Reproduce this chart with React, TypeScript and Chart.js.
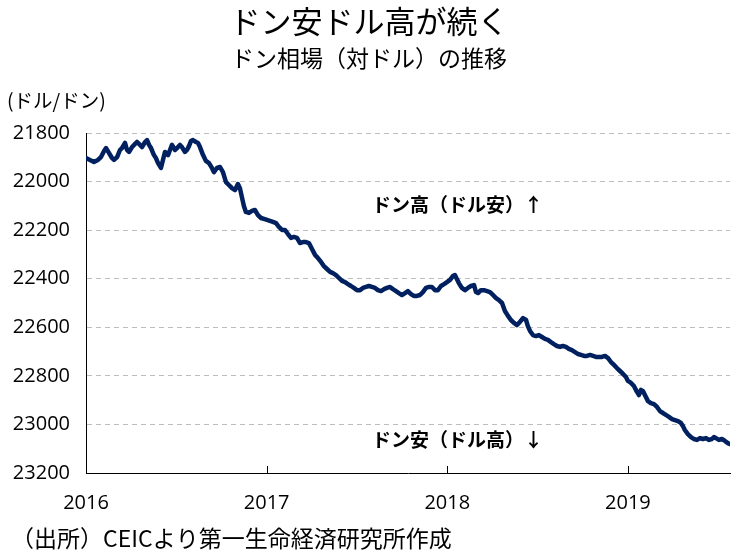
import React, { useEffect, useRef } from "react";
import { Chart, registerables } from "chart.js";

Chart.register(...registerables);

const titleText = "ドン安ドル高が続く";
const subtitleText = "ドン相場（対ドル）の推移";
const unitText = "(ドル/ドン)";
const sourceText = "（出所）CEICより第一生命経済研究所作成";
const upNote = "ドン高（ドル安）↑";
const downNote = "ドン安（ドル高）↓";

const yTicks = [21800, 22000, 22200, 22400, 22600, 22800, 23000, 23200];
const xTickYears = [2016, 2017, 2018, 2019];

// decimal year
const dates = [
  2016.0, 2016.022, 2016.044, 2016.066, 2016.083, 2016.1, 2016.111, 2016.127, 2016.144, 2016.155,
  2016.172, 2016.188, 2016.199, 2016.216, 2016.227, 2016.238, 2016.255, 2016.266, 2016.282, 2016.299,
  2016.31, 2016.327, 2016.338, 2016.349, 2016.36, 2016.376, 2016.387, 2016.399, 2016.415, 2016.426,
  2016.437, 2016.454, 2016.465, 2016.476, 2016.493, 2016.504, 2016.52, 2016.531, 2016.548, 2016.559,
  2016.57, 2016.581, 2016.592, 2016.609, 2016.62, 2016.631, 2016.648, 2016.664, 2016.681, 2016.697,
  2016.708, 2016.725, 2016.742, 2016.758, 2016.775, 2016.791, 2016.808, 2016.825, 2016.841, 2016.852,
  2016.863, 2016.874, 2016.885, 2016.902, 2016.919, 2016.935, 2016.952, 2016.969, 2016.985, 2017.002,
  2017.018, 2017.035, 2017.052, 2017.068, 2017.085, 2017.101, 2017.118, 2017.135, 2017.151, 2017.168,
  2017.184, 2017.201, 2017.218, 2017.234, 2017.251, 2017.268, 2017.284, 2017.301, 2017.317, 2017.334,
  2017.351, 2017.367, 2017.384, 2017.4, 2017.417, 2017.434, 2017.45, 2017.467, 2017.483, 2017.5,
  2017.517, 2017.533, 2017.55, 2017.566, 2017.583, 2017.6, 2017.616, 2017.633, 2017.65, 2017.666,
  2017.683, 2017.699, 2017.716, 2017.732, 2017.749, 2017.766, 2017.782, 2017.799, 2017.815, 2017.832,
  2017.849, 2017.865, 2017.882, 2017.899, 2017.915, 2017.932, 2017.948, 2017.965, 2017.982, 2017.998,
  2018.015, 2018.031, 2018.042, 2018.053, 2018.064, 2018.081, 2018.098, 2018.114, 2018.131, 2018.148,
  2018.159, 2018.17, 2018.186, 2018.203, 2018.22, 2018.236, 2018.253, 2018.27, 2018.286, 2018.303,
  2018.319, 2018.336, 2018.352, 2018.369, 2018.386, 2018.402, 2018.419, 2018.436, 2018.446, 2018.458,
  2018.474, 2018.491, 2018.507, 2018.524, 2018.541, 2018.557, 2018.574, 2018.59, 2018.607, 2018.624,
  2018.64, 2018.657, 2018.673, 2018.69, 2018.707, 2018.723, 2018.74, 2018.757, 2018.773, 2018.79,
  2018.807, 2018.823, 2018.84, 2018.856, 2018.873, 2018.89, 2018.906, 2018.923, 2018.939, 2018.956,
  2018.973, 2018.989, 2019.0, 2019.017, 2019.033, 2019.05, 2019.061, 2019.072, 2019.083, 2019.094,
  2019.111, 2019.127, 2019.144, 2019.161, 2019.177, 2019.194, 2019.21, 2019.227, 2019.244, 2019.26,
  2019.277, 2019.293, 2019.304, 2019.315, 2019.332, 2019.349, 2019.365, 2019.382, 2019.399, 2019.415,
  2019.432, 2019.448, 2019.465, 2019.476, 2019.487, 2019.504, 2019.52, 2019.537, 2019.553, 2019.564,
];

// dong per dollar
const rates = [
  21903, 21911, 21919, 21911, 21899, 21874, 21862, 21882, 21903, 21911,
  21899, 21870, 21862, 21841, 21870, 21878, 21858, 21849, 21837, 21849,
  21858, 21837, 21829, 21849, 21862, 21891, 21903, 21924, 21944, 21911,
  21878, 21891, 21870, 21849, 21870, 21862, 21849, 21858, 21878, 21870,
  21854, 21833, 21829, 21837, 21841, 21858, 21891, 21915, 21924, 21944,
  21961, 21944, 21940, 21961, 22002, 22014, 22027, 22035, 22010, 22027,
  22064, 22101, 22125, 22129, 22121, 22117, 22138, 22150, 22154, 22158,
  22162, 22166, 22171, 22187, 22199, 22199, 22216, 22232, 22228, 22232,
  22253, 22249, 22249, 22253, 22278, 22302, 22315, 22331, 22348, 22360,
  22372, 22377, 22385, 22397, 22409, 22414, 22422, 22430, 22438, 22447,
  22447, 22438, 22434, 22430, 22434, 22438, 22447, 22451, 22443, 22438,
  22434, 22443, 22451, 22459, 22467, 22459, 22451, 22463, 22471, 22471,
  22467, 22455, 22438, 22434, 22434, 22447, 22447, 22430, 22422, 22414,
  22405, 22389, 22385, 22401, 22418, 22438, 22447, 22438, 22430, 22426,
  22455, 22459, 22447, 22447, 22451, 22455, 22467, 22480, 22488, 22500,
  22533, 22553, 22570, 22582, 22591, 22578, 22562, 22570, 22595, 22615,
  22632, 22636, 22632, 22640, 22648, 22652, 22661, 22669, 22677, 22681,
  22677, 22681, 22689, 22694, 22702, 22710, 22714, 22718, 22718, 22714,
  22718, 22722, 22722, 22722, 22718, 22727, 22743, 22755, 22768, 22780,
  22792, 22805, 22821, 22829, 22842, 22866, 22879, 22858, 22862, 22879,
  22904, 22912, 22916, 22928, 22945, 22953, 22961, 22969, 22978, 22982,
  22986, 22994, 23006, 23023, 23040, 23052, 23060, 23064, 23056, 23060,
  23056, 23064, 23060, 23052, 23056, 23064, 23060, 23068, 23077, 23081,
];

const JP = '"Noto Sans CJK JP", "Noto Sans", sans-serif';
const NUM = '"Open Sans", "Noto Sans", sans-serif';

const textPlugin = {
  id: "textPlugin",
  afterDraw(chart: any) {
    const ctx = chart.ctx;
    const xs = chart.scales.x;
    const area = chart.chartArea;
    ctx.save();
    // x tick marks (inside)
    ctx.strokeStyle = "#000";
    ctx.lineWidth = 1;
    ctx.beginPath();
    for (const yr of xTickYears) {
      const px = Math.round(xs.getPixelForValue(yr)) + 0.5;
      ctx.moveTo(px, area.bottom);
      ctx.lineTo(px, area.bottom - 7);
    }
    ctx.stroke();

    ctx.fillStyle = "#000";
    ctx.textBaseline = "middle";
    ctx.textAlign = "center";
    ctx.font = `31px ${JP}`;
    ctx.fillText(titleText, 369, 21);
    ctx.font = `23px ${JP}`;
    ctx.fillText(subtitleText, 369, 58);

    ctx.textAlign = "left";
    ctx.font = `19.5px ${JP}`;
    ctx.fillText(unitText, 7, 101);
    ctx.font = `bold 19px ${JP}`;
    ctx.fillText(upNote, 372, 205);
    ctx.fillText(downNote, 372, 440);
    ctx.font = `23px ${JP}`;
    ctx.fillText(sourceText, 11, 538);
    ctx.restore();
  },
};

export default function App() {
  const ref = useRef<HTMLCanvasElement | null>(null);
  useEffect(() => {
    document.body.style.margin = "0";
    const canvas = ref.current!;
    const chart = new Chart(canvas, {
      type: "line",
      data: {
        datasets: [
          {
            data: dates.map((d, i) => ({ x: d, y: rates[i] })),
            borderColor: "#00205f",
            borderWidth: 4.5,
            pointRadius: 0,
            tension: 0,
            borderJoinStyle: "round",
            borderCapStyle: "round",
          },
        ],
      },
      options: {
        animation: false,
        responsive: false,
        maintainAspectRatio: false,
        layout: { padding: { left: 0, right: 8, top: 133, bottom: 0 } },
        plugins: { legend: { display: false }, tooltip: { enabled: false }, title: { display: false } },
        scales: {
          x: {
            type: "linear",
            min: 2016,
            max: 2019.565,
            afterFit: (s: any) => {
              s.height = 81;
            },
            afterBuildTicks: (s: any) => {
              s.ticks = xTickYears.map((v) => ({ value: v }));
            },
            grid: { display: false, drawTicks: false },
            border: { display: true, color: "#000", width: 1 },
            ticks: {
              padding: 18,
              maxRotation: 0,
              autoSkip: false,
              color: "#000",
              font: { family: NUM, size: 20 },
              callback: (v: any) => String(v),
            },
          },
          y: {
            type: "linear",
            reverse: true,
            min: 21800,
            max: 23200,
            afterFit: (s: any) => {
              s.width = 86;
            },
            afterBuildTicks: (s: any) => {
              s.ticks = yTicks.map((v) => ({ value: v }));
            },
            grid: { color: "#bdbdbd", lineWidth: 1, drawTicks: false },
            border: { display: true, color: "#000", width: 1, dash: [5, 4] },
            ticks: {
              padding: 16,
              color: "#000",
              font: { family: NUM, size: 20 },
              callback: (v: any) => String(v),
            },
          },
        },
      },
      plugins: [textPlugin],
    });
    return () => chart.destroy();
  }, []);
  return (
    <div style={{ position: "absolute", left: 0, top: 0, width: 738, height: 554, background: "#fff" }}>
      <canvas ref={ref} width={738} height={554} style={{ width: 738, height: 554 }} />
    </div>
  );
}
